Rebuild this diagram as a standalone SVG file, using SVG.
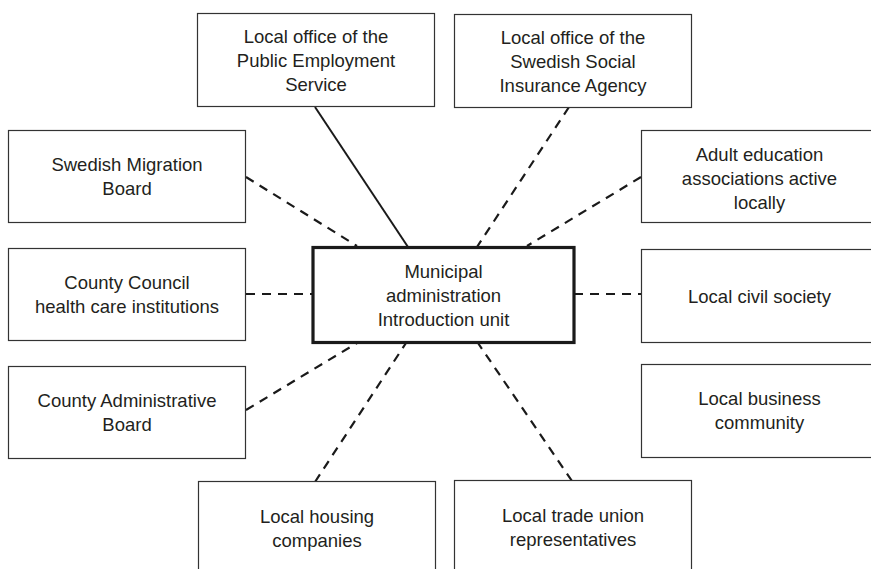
<svg xmlns="http://www.w3.org/2000/svg" width="871" height="569" viewBox="0 0 871 569">
<style>
  .box { fill: #ffffff; stroke: #333333; stroke-width: 1.2; }
  .main { fill: #ffffff; stroke: #1a1a1a; stroke-width: 3.2; }
  text { font-family: "Liberation Sans", Arial, sans-serif; font-size: 18.5px; fill: #231f20; text-anchor: middle; }
  .solid { stroke: #1a1a1a; stroke-width: 2; fill: none; }
  .dash { stroke: #1a1a1a; stroke-width: 2.2; fill: none; stroke-dasharray: 9 7; }
</style>
<rect width="871" height="569" fill="#ffffff"/>
<g id="connectors">
  <line class="solid" x1="315" y1="107" x2="408" y2="247"/>
  <line class="dash" x1="569" y1="107" x2="477" y2="247"/>
  <line class="dash" x1="246" y1="177" x2="357" y2="246"/>
  <line class="dash" x1="641" y1="177" x2="527" y2="246"/>
  <line class="dash" x1="246" y1="294" x2="313" y2="294"/>
  <line class="dash" x1="574" y1="294" x2="641" y2="294"/>
  <line class="dash" x1="246" y1="410" x2="357" y2="343"/>
  <line class="dash" x1="315" y1="482" x2="406" y2="343"/>
  <line class="dash" x1="572" y1="481" x2="478" y2="343"/>
</g>
<g id="public-employment">
  <rect class="box" x="197.5" y="13.5" width="237" height="93"/>
  <text x="316" y="43">Local office of the</text>
  <text x="316" y="67">Public Employment</text>
  <text x="316" y="91">Service</text>
</g>
<g id="social-insurance">
  <rect class="box" x="454.5" y="14.5" width="237" height="93"/>
  <text x="573" y="44">Local office of the</text>
  <text x="573" y="68">Swedish Social</text>
  <text x="573" y="92">Insurance Agency</text>
</g>
<g id="migration-board">
  <rect class="box" x="8.5" y="130.5" width="237" height="92"/>
  <text x="127" y="171">Swedish Migration</text>
  <text x="127" y="195">Board</text>
</g>
<g id="county-council">
  <rect class="box" x="8.5" y="248.5" width="237" height="92"/>
  <text x="127" y="289">County Council</text>
  <text x="127" y="313">health care institutions</text>
</g>
<g id="county-administrative">
  <rect class="box" x="8.5" y="366.5" width="237" height="92"/>
  <text x="127" y="407">County Administrative</text>
  <text x="127" y="431">Board</text>
</g>
<g id="adult-education">
  <rect class="box" x="641.5" y="130.5" width="237" height="92"/>
  <text x="759.5" y="160.5">Adult education</text>
  <text x="759.5" y="184.5">associations active</text>
  <text x="759.5" y="208.5">locally</text>
</g>
<g id="civil-society">
  <rect class="box" x="641.5" y="249.5" width="237" height="93"/>
  <text x="759.5" y="303">Local civil society</text>
</g>
<g id="business-community">
  <rect class="box" x="641.5" y="364.5" width="237" height="93"/>
  <text x="759.5" y="405">Local business</text>
  <text x="759.5" y="429">community</text>
</g>
<g id="housing-companies">
  <rect class="box" x="198.5" y="481.5" width="237" height="93"/>
  <text x="317" y="523">Local housing</text>
  <text x="317" y="547">companies</text>
</g>
<g id="trade-union">
  <rect class="box" x="454.5" y="480.5" width="237" height="93"/>
  <text x="573" y="522">Local trade union</text>
  <text x="573" y="546">representatives</text>
</g>
<g id="municipal-administration">
  <rect class="main" x="313" y="247.5" width="261" height="95"/>
  <text x="443.5" y="278">Municipal</text>
  <text x="443.5" y="302">administration</text>
  <text x="443.5" y="326">Introduction unit</text>
</g>
</svg>
